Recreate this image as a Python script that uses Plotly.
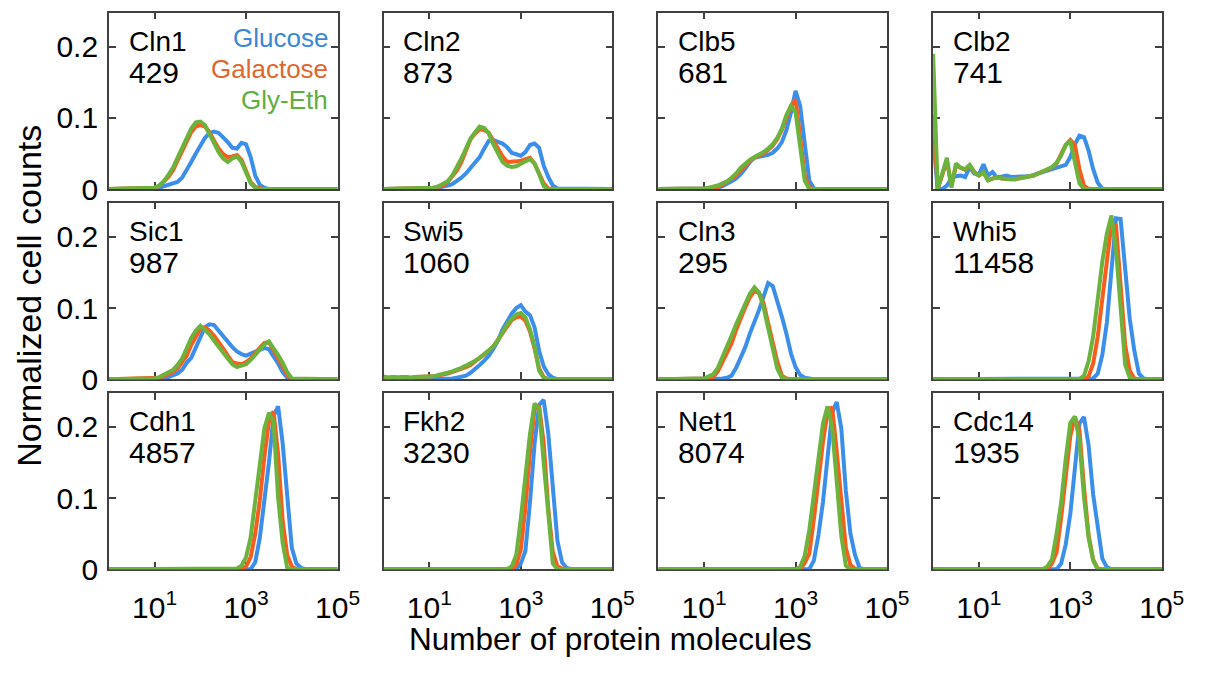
import plotly.graph_objects as go

# ---------------------------------------------------------------------------
# Data: histograms of protein copy number per cell, three carbon sources.
# x values are log10(number of protein molecules); y is normalized cell count.
# ---------------------------------------------------------------------------
SERIES_NAMES = ["Glucose", "Galactose", "Gly-Eth"]
LINE_COLORS = ["#3b8fea", "#f75e1e", "#6cb33e"]
LABEL_COLORS = ["#3b86d8", "#e0662e", "#5fae3e"]

PROTEINS = ["Cln1", "Cln2", "Clb5", "Clb2",
            "Sic1", "Swi5", "Cln3", "Whi5",
            "Cdh1", "Fkh2", "Net1", "Cdc14"]
MOLECULES = ["429", "873", "681", "741",
             "987", "1060", "295", "11458",
             "4857", "3230", "8074", "1935"]

X_TICK_VALUES = [10, 1000, 100000]
X_TICK_TEXT = ["10<sup>1</sup>", "10<sup>3</sup>", "10<sup>5</sup>"]
Y_TICK_VALUES = [0, 0.1, 0.2]
Y_TICK_TEXT = ["0", "0.1", "0.2"]

# --- Cln1 ---
CLN1_LOG = [0.0, 0.9, 1.0, 1.1, 1.2, 1.3, 1.4, 1.5, 1.6, 1.7, 1.8, 1.9, 2.0, 2.1, 2.2,
            2.3, 2.4, 2.5, 2.6, 2.7, 2.8, 2.9, 3.0, 3.1, 3.2, 3.3, 3.4, 3.5, 5.0]
CLN1_GLU = [0, 0.000, 0.001, 0.002, 0.004, 0.006, 0.008, 0.010, 0.016, 0.026, 0.038, 0.050,
            0.062, 0.072, 0.079, 0.081, 0.079, 0.073, 0.066, 0.058, 0.057, 0.065, 0.063,
            0.045, 0.019, 0.006, 0.002, 0.000, 0]
CLN1_GAL = [0, 0.001, 0.002, 0.004, 0.010, 0.017, 0.026, 0.040, 0.054, 0.068, 0.080, 0.088,
            0.090, 0.088, 0.080, 0.068, 0.057, 0.049, 0.045, 0.046, 0.048, 0.041, 0.026,
            0.010, 0.003, 0.001, 0.000, 0.000, 0]
CLN1_GLY = [0, 0.001, 0.002, 0.005, 0.011, 0.020, 0.030, 0.044, 0.058, 0.072, 0.085, 0.094,
            0.095, 0.090, 0.078, 0.064, 0.052, 0.043, 0.038, 0.043, 0.046, 0.038, 0.022,
            0.008, 0.002, 0.000, 0.000, 0.000, 0]

# --- Cln2 ---
CLN2_LOG = [0.0, 1.0, 1.1, 1.2, 1.3, 1.4, 1.5, 1.6, 1.7, 1.8, 1.9, 2.0, 2.1, 2.2, 2.3, 2.4,
            2.5, 2.6, 2.7, 2.8, 2.9, 3.0, 3.1, 3.2, 3.3, 3.4, 3.5, 3.6, 3.7, 3.8, 5.0]
CLN2_GLU = [0, 0.000, 0.001, 0.002, 0.003, 0.005, 0.007, 0.011, 0.016, 0.022, 0.029, 0.036,
            0.045, 0.057, 0.068, 0.069, 0.067, 0.064, 0.059, 0.051, 0.049, 0.047, 0.052,
            0.062, 0.064, 0.058, 0.033, 0.017, 0.005, 0.001, 0]
CLN2_GAL = [0, 0.001, 0.002, 0.003, 0.005, 0.010, 0.017, 0.026, 0.038, 0.054, 0.070, 0.078,
            0.084, 0.083, 0.079, 0.068, 0.057, 0.046, 0.038, 0.038, 0.039, 0.040, 0.042,
            0.044, 0.036, 0.021, 0.008, 0.001, 0.000, 0.000, 0]
CLN2_GLY = [0, 0.001, 0.002, 0.004, 0.007, 0.011, 0.019, 0.030, 0.043, 0.057, 0.071, 0.080,
            0.088, 0.086, 0.078, 0.063, 0.050, 0.038, 0.033, 0.031, 0.032, 0.036, 0.039,
            0.042, 0.036, 0.021, 0.004, 0.000, 0.000, 0.000, 0]

# --- Clb5 ---
CLB5_LOG = [0.0, 0.7, 0.8, 0.9, 1.0, 1.1, 1.2, 1.3, 1.4, 1.5, 1.6, 1.7, 1.8, 1.9, 2.0, 2.1,
            2.2, 2.3, 2.4, 2.5, 2.6, 2.7, 2.8, 2.9, 3.0, 3.1, 3.2, 3.3, 3.4, 3.5, 5.0]
CLB5_GLU = [0, 0.000, 0.001, 0.001, 0.001, 0.001, 0.002, 0.002, 0.004, 0.007, 0.011, 0.015,
            0.021, 0.029, 0.038, 0.044, 0.045, 0.047, 0.048, 0.051, 0.057, 0.066, 0.083,
            0.108, 0.138, 0.117, 0.062, 0.012, 0.001, 0.000, 0]
CLB5_GAL = [0, 0.000, 0.001, 0.001, 0.001, 0.001, 0.002, 0.003, 0.006, 0.010, 0.014, 0.019,
            0.026, 0.034, 0.040, 0.044, 0.047, 0.050, 0.055, 0.061, 0.070, 0.083, 0.100,
            0.117, 0.126, 0.070, 0.020, 0.002, 0.000, 0.000, 0]
CLB5_GLY = [0, 0.000, 0.001, 0.001, 0.001, 0.002, 0.003, 0.005, 0.008, 0.011, 0.016, 0.022,
            0.030, 0.036, 0.041, 0.045, 0.048, 0.052, 0.057, 0.063, 0.072, 0.085, 0.104,
            0.117, 0.108, 0.056, 0.012, 0.000, 0.000, 0.000, 0]

# --- Clb2 ---
CLB2_LOG = [0.0, 0.1, 0.2, 0.3, 0.4, 0.5, 0.6, 0.7, 0.8, 0.9, 1.0, 1.1, 1.2, 1.3, 1.4, 1.5,
            1.6, 1.7, 1.8, 1.9, 2.0, 2.1, 2.2, 2.3, 2.4, 2.5, 2.6, 2.7, 2.8, 2.9, 3.0, 3.1,
            3.2, 3.3, 3.4, 3.5, 3.6, 3.7, 3.8, 5.0]
CLB2_GLU = [0.070, 0.000, 0.000, 0.005, 0.015, 0.018, 0.019, 0.017, 0.031, 0.022, 0.020,
            0.035, 0.019, 0.024, 0.016, 0.018, 0.019, 0.017, 0.017, 0.017, 0.017, 0.018,
            0.020, 0.022, 0.024, 0.026, 0.028, 0.030, 0.032, 0.034, 0.045, 0.063, 0.075,
            0.073, 0.054, 0.028, 0.009, 0.001, 0.000, 0]
CLB2_GAL = [0.105, 0.000, 0.020, 0.040, 0.005, 0.033, 0.030, 0.027, 0.033, 0.024, 0.019,
            0.023, 0.013, 0.015, 0.017, 0.015, 0.014, 0.014, 0.014, 0.015, 0.016, 0.017,
            0.019, 0.022, 0.025, 0.027, 0.030, 0.036, 0.050, 0.062, 0.069, 0.062, 0.028,
            0.005, 0.000, 0.000, 0.000, 0.000, 0.000, 0]
CLB2_GLY = [0.190, 0.000, 0.022, 0.044, 0.002, 0.036, 0.030, 0.028, 0.034, 0.024, 0.019,
            0.024, 0.012, 0.015, 0.017, 0.015, 0.014, 0.014, 0.014, 0.015, 0.016, 0.017,
            0.019, 0.022, 0.025, 0.027, 0.031, 0.037, 0.047, 0.062, 0.067, 0.038, 0.008,
            0.000, 0.000, 0.000, 0.000, 0.000, 0.000, 0]

# --- Sic1 ---
SIC1_LOG = [0.0, 1.0, 1.1, 1.2, 1.3, 1.4, 1.5, 1.6, 1.7, 1.8, 1.9, 2.0, 2.1, 2.2, 2.3, 2.4,
            2.5, 2.6, 2.7, 2.8, 2.9, 3.0, 3.1, 3.2, 3.3, 3.4, 3.5, 3.6, 3.7, 3.8, 3.9, 4.0, 5.0]
SIC1_GLU = [0, 0.000, 0.001, 0.001, 0.003, 0.006, 0.008, 0.013, 0.023, 0.030, 0.045, 0.060,
            0.073, 0.077, 0.076, 0.068, 0.060, 0.052, 0.045, 0.039, 0.035, 0.033, 0.036,
            0.039, 0.042, 0.044, 0.042, 0.033, 0.022, 0.010, 0.002, 0.000, 0]
SIC1_GAL = [0, 0.001, 0.002, 0.004, 0.007, 0.010, 0.015, 0.023, 0.033, 0.048, 0.061, 0.071,
            0.073, 0.068, 0.061, 0.053, 0.043, 0.033, 0.024, 0.022, 0.021, 0.024, 0.029,
            0.037, 0.044, 0.051, 0.052, 0.041, 0.031, 0.018, 0.006, 0.000, 0]
SIC1_GLY = [0, 0.001, 0.003, 0.006, 0.009, 0.013, 0.020, 0.029, 0.043, 0.058, 0.068, 0.075,
            0.069, 0.063, 0.054, 0.045, 0.036, 0.029, 0.021, 0.017, 0.019, 0.021, 0.027,
            0.035, 0.042, 0.049, 0.053, 0.044, 0.034, 0.023, 0.010, 0.001, 0]

# --- Swi5 ---
SWI5_LOG = [0.0, 0.1, 0.2, 0.3, 0.4, 0.5, 0.6, 0.7, 0.8, 0.9, 1.0, 1.1, 1.2, 1.3, 1.4, 1.5,
            1.6, 1.7, 1.8, 1.9, 2.0, 2.1, 2.2, 2.3, 2.4, 2.5, 2.6, 2.7, 2.8, 2.9, 3.0, 3.1,
            3.2, 3.3, 3.4, 3.5, 3.6, 3.7, 3.8, 5.0]
SWI5_GLU = [0.000, 0.000, 0.000, 0.000, 0.000, 0.000, 0.000, 0.000, 0.000, 0.000, 0.000,
            0.000, 0.001, 0.001, 0.001, 0.001, 0.002, 0.003, 0.005, 0.009, 0.014, 0.020,
            0.026, 0.033, 0.043, 0.054, 0.070, 0.082, 0.092, 0.100, 0.104, 0.095, 0.090,
            0.073, 0.040, 0.018, 0.007, 0.002, 0.000, 0]
SWI5_GAL = [0.003, 0.002, 0.003, 0.002, 0.003, 0.002, 0.002, 0.003, 0.003, 0.003, 0.003,
            0.004, 0.005, 0.006, 0.008, 0.010, 0.012, 0.014, 0.017, 0.020, 0.025, 0.029,
            0.034, 0.040, 0.046, 0.055, 0.065, 0.075, 0.083, 0.087, 0.088, 0.082, 0.067,
            0.043, 0.015, 0.003, 0.000, 0.000, 0.000, 0]
SWI5_GLY = [0.004, 0.002, 0.003, 0.002, 0.002, 0.003, 0.002, 0.003, 0.003, 0.003, 0.004,
            0.004, 0.006, 0.007, 0.009, 0.011, 0.013, 0.016, 0.019, 0.022, 0.026, 0.030,
            0.035, 0.040, 0.046, 0.055, 0.066, 0.077, 0.085, 0.091, 0.093, 0.087, 0.070,
            0.046, 0.012, 0.002, 0.000, 0.000, 0.000, 0]

# --- Cln3 ---
CLN3_LOG = [0.0, 0.9, 1.0, 1.1, 1.2, 1.3, 1.4, 1.5, 1.6, 1.7, 1.8, 1.9, 2.0, 2.1, 2.2, 2.3,
            2.4, 2.5, 2.6, 2.7, 2.8, 2.9, 3.0, 3.1, 3.2, 3.3, 3.4, 5.0]
CLN3_GLU = [0, 0.000, 0.000, 0.000, 0.000, 0.000, 0.001, 0.002, 0.005, 0.016, 0.030, 0.045,
            0.064, 0.080, 0.097, 0.116, 0.135, 0.131, 0.111, 0.088, 0.064, 0.036, 0.017,
            0.006, 0.002, 0.001, 0.000, 0]
CLN3_GAL = [0, 0.000, 0.000, 0.001, 0.003, 0.011, 0.024, 0.037, 0.050, 0.069, 0.086, 0.101,
            0.115, 0.124, 0.121, 0.107, 0.079, 0.049, 0.025, 0.005, 0.001, 0.000, 0.000,
            0.000, 0.000, 0.000, 0.000, 0]
CLN3_GLY = [0, 0.000, 0.001, 0.004, 0.007, 0.016, 0.030, 0.046, 0.061, 0.077, 0.092, 0.106,
            0.120, 0.129, 0.122, 0.101, 0.072, 0.043, 0.015, 0.002, 0.000, 0.000, 0.000,
            0.000, 0.000, 0.000, 0.000, 0]

# --- Whi5 ---
WHI5_LOG = [0.0, 3.2, 3.3, 3.4, 3.5, 3.6, 3.7, 3.8, 3.9, 4.0, 4.1, 4.2, 4.3, 4.4, 4.5, 4.6,
            4.7, 5.0]
WHI5_GLU = [0, 0.000, 0.000, 0.000, 0.001, 0.008, 0.034, 0.080, 0.155, 0.226, 0.225, 0.156,
            0.085, 0.040, 0.008, 0.001, 0.000, 0]
WHI5_GAL = [0, 0.000, 0.000, 0.004, 0.022, 0.060, 0.110, 0.170, 0.218, 0.216, 0.140, 0.048,
            0.012, 0.001, 0.000, 0.000, 0.000, 0]
WHI5_GLY = [0, 0.000, 0.005, 0.025, 0.060, 0.112, 0.165, 0.205, 0.230, 0.182, 0.094, 0.020,
            0.002, 0.000, 0.000, 0.000, 0.000, 0]

# --- Cdh1 ---
CDH1_LOG = [0.0, 2.7, 2.8, 2.9, 3.0, 3.1, 3.2, 3.3, 3.4, 3.5, 3.6, 3.7, 3.8, 3.9, 4.0, 4.1,
            4.2, 4.3, 5.0]
CDH1_GLU = [0, 0.000, 0.000, 0.000, 0.000, 0.000, 0.010, 0.044, 0.097, 0.150, 0.215, 0.229,
            0.177, 0.103, 0.030, 0.008, 0.002, 0.000, 0]
CDH1_GAL = [0, 0.000, 0.000, 0.000, 0.004, 0.017, 0.050, 0.097, 0.158, 0.207, 0.222, 0.162,
            0.068, 0.020, 0.004, 0.000, 0.000, 0.000, 0]
CDH1_GLY = [0, 0.000, 0.001, 0.005, 0.017, 0.045, 0.096, 0.139, 0.198, 0.220, 0.208, 0.101,
            0.037, 0.002, 0.000, 0.000, 0.000, 0.000, 0]

# --- Fkh2 ---
FKH2_LOG = [0.0, 2.6, 2.7, 2.8, 2.9, 3.0, 3.1, 3.2, 3.3, 3.4, 3.5, 3.6, 3.7, 3.8, 3.9, 4.0,
            4.1, 5.0]
FKH2_GLU = [0, 0.000, 0.000, 0.000, 0.000, 0.008, 0.026, 0.094, 0.176, 0.231, 0.238, 0.191,
            0.110, 0.040, 0.010, 0.002, 0.000, 0]
FKH2_GAL = [0, 0.000, 0.000, 0.000, 0.006, 0.028, 0.087, 0.165, 0.225, 0.230, 0.178, 0.086,
            0.024, 0.004, 0.001, 0.000, 0.000, 0]
FKH2_GLY = [0, 0.000, 0.000, 0.004, 0.020, 0.071, 0.133, 0.190, 0.233, 0.226, 0.150, 0.075,
            0.008, 0.000, 0.000, 0.000, 0.000, 0]

# --- Net1 ---
NET1_LOG = [0.0, 3.0, 3.1, 3.2, 3.3, 3.4, 3.5, 3.6, 3.7, 3.8, 3.9, 4.0, 4.1, 4.2, 4.3, 4.4,
            4.5, 5.0]
NET1_GLU = [0, 0.000, 0.000, 0.000, 0.000, 0.012, 0.048, 0.095, 0.164, 0.220, 0.235, 0.198,
            0.110, 0.050, 0.020, 0.002, 0.000, 0]
NET1_GAL = [0, 0.000, 0.000, 0.009, 0.022, 0.070, 0.126, 0.179, 0.221, 0.228, 0.166, 0.104,
            0.030, 0.006, 0.001, 0.000, 0.000, 0]
NET1_GLY = [0, 0.000, 0.003, 0.019, 0.055, 0.107, 0.160, 0.205, 0.229, 0.199, 0.124, 0.047,
            0.005, 0.000, 0.000, 0.000, 0.000, 0]

# --- Cdc14 ---
CDC14_LOG = [0.0, 2.4, 2.5, 2.6, 2.7, 2.8, 2.9, 3.0, 3.1, 3.2, 3.3, 3.4, 3.5, 3.6, 3.7, 3.8,
             3.9, 5.0]
CDC14_GLU = [0, 0.000, 0.000, 0.000, 0.000, 0.008, 0.035, 0.078, 0.145, 0.205, 0.214, 0.174,
             0.105, 0.055, 0.015, 0.003, 0.000, 0]
CDC14_GAL = [0, 0.000, 0.000, 0.008, 0.024, 0.072, 0.130, 0.187, 0.214, 0.196, 0.115, 0.048,
             0.014, 0.001, 0.000, 0.000, 0.000, 0]
CDC14_GLY = [0, 0.000, 0.004, 0.014, 0.050, 0.094, 0.155, 0.206, 0.215, 0.180, 0.101, 0.044,
             0.012, 0.000, 0.000, 0.000, 0.000, 0]

PANELS = [
    (CLN1_LOG, CLN1_GLU, CLN1_GAL, CLN1_GLY),
    (CLN2_LOG, CLN2_GLU, CLN2_GAL, CLN2_GLY),
    (CLB5_LOG, CLB5_GLU, CLB5_GAL, CLB5_GLY),
    (CLB2_LOG, CLB2_GLU, CLB2_GAL, CLB2_GLY),
    (SIC1_LOG, SIC1_GLU, SIC1_GAL, SIC1_GLY),
    (SWI5_LOG, SWI5_GLU, SWI5_GAL, SWI5_GLY),
    (CLN3_LOG, CLN3_GLU, CLN3_GAL, CLN3_GLY),
    (WHI5_LOG, WHI5_GLU, WHI5_GAL, WHI5_GLY),
    (CDH1_LOG, CDH1_GLU, CDH1_GAL, CDH1_GLY),
    (FKH2_LOG, FKH2_GLU, FKH2_GAL, FKH2_GLY),
    (NET1_LOG, NET1_GLU, NET1_GAL, NET1_GLY),
    (CDC14_LOG, CDC14_GLU, CDC14_GAL, CDC14_GLY),
]

# ---------------------------------------------------------------------------
# Layout geometry (pixels)
# ---------------------------------------------------------------------------
W, H = 1224, 673
COL_LEFT = [111, 391, 671, 951]
ROW_TOP = [13, 208, 403]
PANEL_W, PANEL_H = 233, 181
FONT = "Liberation Sans, Arial, Helvetica, sans-serif"
FRAME = "#404040"


def px_x(x):
    return x / W


def px_y(y):
    return 1 - y / H


fig = go.Figure()
annotations = []

for i, (logs, glu, gal, gly) in enumerate(PANELS):
    r, c = divmod(i, 4)
    suffix = "" if i == 0 else str(i + 1)
    xref, yref = "x" + suffix, "y" + suffix
    xs = [10 ** v for v in logs]
    for name, ys, color in zip(SERIES_NAMES, (glu, gal, gly), LINE_COLORS):
        fig.add_trace(go.Scatter(
            x=xs, y=ys, mode="lines", name=name, showlegend=False,
            line=dict(color=color, width=4), cliponaxis=False,
            xaxis=xref, yaxis=yref, hoverinfo="skip"))

    left, top = COL_LEFT[c], ROW_TOP[r]
    fig.layout["xaxis" + suffix] = dict(
        type="log", range=[0, 5], domain=[px_x(left), px_x(left + PANEL_W)],
        anchor=yref, tickvals=X_TICK_VALUES, ticktext=X_TICK_TEXT,
        showticklabels=(r == 2), ticks="inside", ticklen=7, tickwidth=1.5,
        tickcolor=FRAME, showline=True, linecolor=FRAME, linewidth=1.5,
        mirror="ticks", showgrid=False, zeroline=False, layer="below traces",
        tickfont=dict(family=FONT, size=30, color="black"), ticklabelstandoff=11)
    fig.layout["yaxis" + suffix] = dict(
        range=[0, 0.248], domain=[px_y(top + PANEL_H), px_y(top)],
        anchor=xref, tickvals=Y_TICK_VALUES, ticktext=Y_TICK_TEXT,
        showticklabels=(c == 0), ticks="inside", ticklen=7, tickwidth=1.5,
        tickcolor=FRAME, showline=True, linecolor=FRAME, linewidth=1.5,
        mirror="ticks", showgrid=False, zeroline=False, layer="below traces",
        tickfont=dict(family=FONT, size=30, color="black"), ticklabelstandoff=3)

    # protein name and molecule count
    annotations.append(dict(
        text=PROTEINS[i], x=px_x(left + 18), y=px_y(top + 29.5), xref="paper",
        yref="paper", xanchor="left", yanchor="middle", showarrow=False,
        font=dict(family=FONT, size=28, color="black")))
    annotations.append(dict(
        text=MOLECULES[i], x=px_x(left + 18), y=px_y(top + 61), xref="paper",
        yref="paper", xanchor="left", yanchor="middle", showarrow=False,
        font=dict(family=FONT, size=30, color="black")))

# carbon-source key inside the first panel
for k, (name, color) in enumerate(zip(SERIES_NAMES, LABEL_COLORS)):
    annotations.append(dict(
        text=name, x=px_x(336), y=px_y(38.5 + 32 * k), xref="paper", yref="paper",
        xanchor="right", yanchor="middle", showarrow=False,
        font=dict(family=FONT, size=26, color=color)))

# shared axis titles
annotations.append(dict(
    text="Number of protein molecules", x=px_x(622), y=px_y(656), xref="paper",
    yref="paper", xanchor="center", yanchor="middle", showarrow=False,
    font=dict(family=FONT, size=31.5, color="black")))
annotations.append(dict(
    text="Normalized cell counts", x=px_x(30), y=px_y(303), xref="paper",
    yref="paper", xanchor="center", yanchor="middle", showarrow=False,
    textangle=-90, font=dict(family=FONT, size=34, color="black")))

fig.update_layout(
    width=W, height=H, margin=dict(l=0, r=0, t=0, b=0),
    paper_bgcolor="white", plot_bgcolor="white",
    annotations=annotations, showlegend=False)

fig.write_html("out.html")
